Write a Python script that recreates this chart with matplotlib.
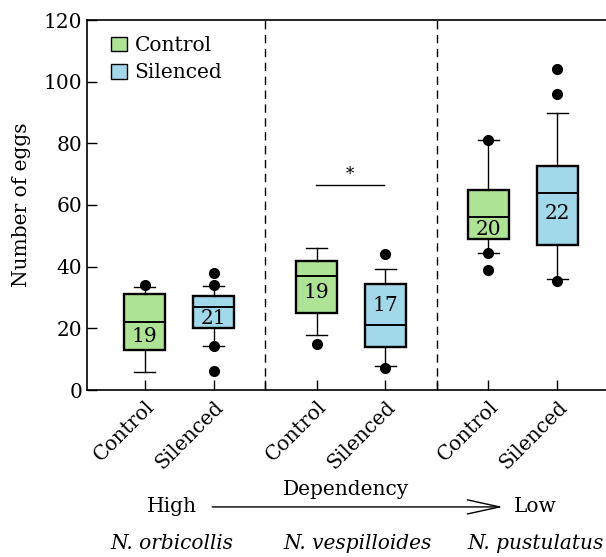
import matplotlib
matplotlib.use("Agg")
import matplotlib.pyplot as plt
from matplotlib.patches import Patch
from matplotlib.transforms import blended_transform_factory

plt.rcParams['font.family'] = ['DejaVu Serif']
plt.rcParams['font.size'] = 14.5

# box positions and labels
positions = [1, 2, 3.5, 4.5, 6, 7]
separators = [2.75, 5.25]
tick_labels = ["Control", "Silenced", "Control", "Silenced", "Control", "Silenced"]
species = ["N. orbicollis", "N. vespilloides", "N. pustulatus"]
species_x = [1.39, 4.09, 6.68]

# box statistics
q1 = [13, 20, 25, 14, 49, 47]
med = [22, 27, 37, 21, 56, 64]
q3 = [31, 30.6, 42, 34.5, 64.8, 72.5]
whislo = [6, 14.3, 18, 7.8, 44.5, 36]
whishi = [33.5, 33.8, 46, 39.3, 81, 90]
fliers = [[34], [34, 38, 14.3, 6.3], [15], [44, 7], [81, 44.5, 39], [96, 104, 35.5]]
n_labels = ["19", "21", "19", "17", "20", "22"]
n_label_y = [17.2, 23.3, 31.6, 27.3, 52.2, 57.3]

green = "#aee396"
blue = "#a2d9ea"
colors = [green, blue] * 3

fig = plt.figure(figsize=(6.06, 5.57), dpi=100)
ax = fig.add_axes([87 / 606, 1 - 390 / 557, 1 - 87 / 606, 370 / 557])

stats = []
for i in range(len(positions)):
    stats.append({"med": med[i], "q1": q1[i], "q3": q3[i],
                  "whislo": whislo[i], "whishi": whishi[i], "fliers": fliers[i]})

bp = ax.bxp(stats, positions=positions, widths=0.6, capwidths=0.3,
            patch_artist=True,
            boxprops=dict(linewidth=1.7, edgecolor="black"),
            medianprops=dict(color="black", linewidth=1.4),
            whiskerprops=dict(color="black", linewidth=1.0),
            capprops=dict(color="black", linewidth=1.0),
            flierprops=dict(marker="o", markerfacecolor="black",
                            markeredgecolor="black", markersize=7))
for box, c in zip(bp["boxes"], colors):
    box.set_facecolor(c)

for x, lab, y in zip(positions, n_labels, n_label_y):
    ax.text(x, y, lab, ha="center", va="center")

for s in separators:
    ax.axvline(s, color="black", linewidth=1.0, linestyle=(0, (6, 4)))

# significance bar
ax.plot([3.49, 4.48], [66.6, 66.6], color="black", linewidth=1.0)
ax.text(3.99, 67.2, "*", ha="center", va="bottom", fontsize=12)

ax.set_xlim(0.159, 7.71)
ax.set_ylim(0, 120)
ax.set_yticks([0, 20, 40, 60, 80, 100, 120])
ax.set_xticks(positions + separators)
ax.set_xticklabels(tick_labels + ["", ""], rotation=45, ha="right",
                   rotation_mode="anchor")
ax.tick_params(direction="in", length=7, width=1.0)
ax.tick_params(axis="x", pad=5)
ax.spines["right"].set_visible(False)
for sp in ["left", "bottom", "top"]:
    ax.spines[sp].set_linewidth(1.2)
ax.set_ylabel("Number of eggs", labelpad=9)

handles = [Patch(facecolor=green, edgecolor="black", label="Control"),
           Patch(facecolor=blue, edgecolor="black", label="Silenced")]
ax.legend(handles=handles, loc="upper left", frameon=False,
          handlelength=0.75, handleheight=0.75, handletextpad=0.4,
          labelspacing=0.42, borderaxespad=0.3, bbox_to_anchor=(0.02, 0.995))

# dependency arrow and species names below the axis
trans = blended_transform_factory(ax.transData, ax.transAxes)
ax.text(1.39, -0.316, "High", transform=trans, ha="center", va="center")
ax.text(6.68, -0.316, "Low", transform=trans, ha="center", va="center")
ax.text(3.93, -0.27, "Dependency", transform=trans, ha="center", va="center")
ax.annotate("", xy=(6.25, -0.316), xytext=(1.94, -0.316),
            xycoords=trans, textcoords=trans, annotation_clip=False,
            arrowprops=dict(arrowstyle="->,head_length=1.6,head_width=0.35",
                            color="black", linewidth=1.0))
for x, name in zip(species_x, species):
    ax.text(x, -0.414, name, transform=trans, ha="center", va="center",
            style="italic")

fig.savefig("out.png", dpi=100)
